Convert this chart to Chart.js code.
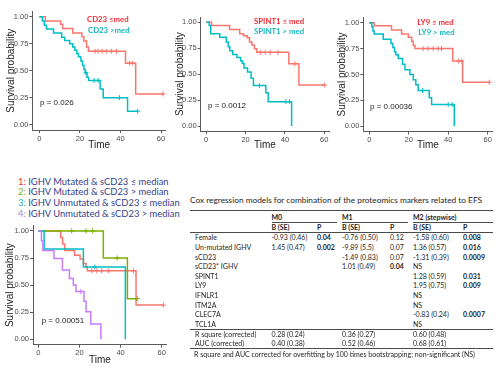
<!DOCTYPE html>
<html>
<head>
<meta charset="utf-8">
<script src="https://cdn.jsdelivr.net/npm/chart.js@4.4.1/dist/chart.umd.min.js"></script>
<style>
  html, body { margin: 0; padding: 0; background: #fff; }
  #page { position: relative; width: 500px; height: 375px; overflow: hidden; font-family: Lato, "Liberation Sans", sans-serif; }
  canvas { position: absolute; }
  .t { position: absolute; white-space: nowrap; line-height: 1; transform: translateY(-50%); }
  .rule { position: absolute; height: 0; border-top: 1px solid #4a4a4a; }
</style>
</head>
<body>
<div id="page">
  <canvas id="km1"></canvas>
  <canvas id="km2"></canvas>
  <canvas id="km3"></canvas>
  <canvas id="km4"></canvas>
</div>
<script>
// ---- survival curves (time in months, survival probability) ----
// panel 1: CD23
const cd23LowTime = [0, 3, 10.5, 11.5, 16.5, 21, 22, 23.3, 24.2, 42.5, 47.5, 61];
const cd23LowSurv = [1, 0.96, 0.93, 0.89, 0.85, 0.815, 0.775, 0.72, 0.68, 0.57, 0.285, 0.285];
const cd23LowCensTime = [27.5, 29, 31, 33, 35.5, 38, 44.5, 46, 61];
const cd23LowCensSurv = [0.68, 0.68, 0.68, 0.68, 0.68, 0.68, 0.57, 0.57, 0.285];
const cd23HighTime = [0, 1.5, 2.5, 3.5, 7, 11, 12.5, 15, 16.5, 17.5, 18.5, 19.3, 20.5, 21.3, 22, 22.6, 23.5, 24.3, 30, 31.5, 43.5, 48.5];
const cd23HighSurv = [1, 0.96, 0.92, 0.885, 0.85, 0.81, 0.78, 0.75, 0.72, 0.69, 0.66, 0.63, 0.59, 0.55, 0.51, 0.48, 0.44, 0.41, 0.33, 0.25, 0.125, 0.125];
const cd23HighCensTime = [23, 27, 29, 39.5, 48.5];
const cd23HighCensSurv = [0.48, 0.41, 0.41, 0.25, 0.125];

// panel 2: SPINT1
const spint1LowTime = [0, 2.7, 11.9, 17, 19, 20.8, 22, 23.2, 24.5, 25.7, 42, 47.1, 60.2];
const spint1LowSurv = [1, 0.97, 0.93, 0.89, 0.87, 0.85, 0.81, 0.78, 0.745, 0.71, 0.6, 0.395, 0.395];
const spint1LowCensTime = [27.5, 30, 32.5, 36.5, 45, 60.2];
const spint1LowCensSurv = [0.71, 0.71, 0.71, 0.71, 0.6, 0.395];
const spint1HighTime = [0, 1.5, 2.3, 6.9, 10.2, 11.2, 12, 13.5, 15.6, 17.5, 18.3, 19.2, 21, 22.8, 24, 30.3, 31.5, 43.4];
const spint1HighSurv = [1, 0.97, 0.89, 0.855, 0.81, 0.765, 0.725, 0.69, 0.66, 0.63, 0.605, 0.56, 0.52, 0.46, 0.39, 0.32, 0.235, 0];
const spint1HighCensTime = [27, 40.5, 42.3];
const spint1HighCensSurv = [0.39, 0.235, 0.235];

// panel 3: LY9
const ly9LowTime = [0, 2.5, 11.3, 16.4, 19.8, 21.5, 22.3, 23.2, 42.3, 47.3, 60.8];
const ly9LowSurv = [1, 0.97, 0.93, 0.89, 0.86, 0.82, 0.78, 0.75, 0.63, 0.425, 0.425];
const ly9LowCensTime = [27.3, 29.8, 32.4, 34.9, 36.6, 45.2, 46.9, 60.8];
const ly9LowCensSurv = [0.75, 0.75, 0.75, 0.75, 0.75, 0.63, 0.63, 0.425];
const ly9HighTime = [0, 1.3, 1.9, 2.5, 7.1, 11, 12, 12.8, 13.5, 14.7, 16.9, 18.1, 20.6, 22.3, 23.6, 24.8, 30.4, 31.6, 43.1];
const ly9HighSurv = [1, 0.96, 0.92, 0.89, 0.84, 0.8, 0.76, 0.72, 0.69, 0.655, 0.6, 0.545, 0.5, 0.45, 0.4, 0.345, 0.275, 0.21, 0];
const ly9HighCensTime = [27, 40, 42];
const ly9HighCensSurv = [0.345, 0.21, 0.21];

// panel 4: IGHV x sCD23 groups
const grp1Time = [0, 10.9, 11.8, 12.8, 17.6, 20.3, 21.9, 23.2, 23.8, 47.5, 60.8];
const grp1Surv = [1, 0.94, 0.88, 0.82, 0.776, 0.74, 0.7, 0.67, 0.632, 0.316, 0.316];
const grp1CensTime = [26, 28.4, 30.8, 34, 46.2, 60.8];
const grp1CensSurv = [0.632, 0.632, 0.632, 0.632, 0.632, 0.316];
const grp2Time = [0, 31.6, 43.3, 48.1];
const grp2Surv = [1, 0.75, 0.375, 0.375];
const grp2CensTime = [16.2, 23.2, 26.4, 38.3, 48.1];
const grp2CensSurv = [1, 1, 1, 0.75, 0.375];
const grp3Time = [0, 2.8, 21.9, 42.3];
const grp3Surv = [1, 0.833, 0.667, 0];
const grp3CensTime = [27.5];
const grp3CensSurv = [0.667];
const grp4Time = [0, 1.5, 2.2, 7.6, 11.7, 15.1, 17, 18.3, 22.2, 23.2, 25.5, 30.4];
const grp4Surv = [1, 0.91, 0.82, 0.745, 0.64, 0.56, 0.5, 0.44, 0.35, 0.255, 0.14, 0];
const grp4CensTime = [20.6];
const grp4CensSurv = [0.44];

const pValues = ['p = 0.026', 'p = 0.0012', 'p = 0.00036', 'p = 0.00051'];
const xTicks = [0, 20, 40, 60];
const yTicks = [0, 0.25, 0.5, 0.75, 1];

// ---- Cox table ----
const coxRows = ['Female', 'Un-mutated IGHV', 'sCD23', 'sCD23* IGHV', 'SPINT1', 'LY9', 'IFNLR1', 'ITM2A', 'CLEC7A', 'TCL1A'];
const m0B = ['-0.93 (0.46)', '1.45 (0.47)', '', '', '', '', '', '', '', ''];
const m0P = ['0.04', '0.002', '', '', '', '', '', '', '', ''];
const m1B = ['-0.76 (0.50)', '-9.89 (5.5)', '-1.49 (0.83)', '1.01 (0.49)', '', '', '', '', '', ''];
const m1P = ['0.12', '0.07', '0.07', '0.04', '', '', '', '', '', ''];
const m2B = ['-1.58 (0.60)', '1.36 (0.57)', '-1.31 (0.39)', 'NS', '1.28 (0.59)', '1.95 (0.75)', 'NS', 'NS', '-0.83 (0.24)', 'NS'];
const m2P = ['0.008', '0.016', '0.0009', '', '0.031', '0.009', '', '', '0.0007', ''];
const fitRows = ['R square (corrected)', 'AUC (corrected)'];
const fitM0 = ['0.28 (0.24)', '0.40 (0.38)'];
const fitM1 = ['0.36 (0.27)', '0.52 (0.46)'];
const fitM2 = ['0.60 (0.48)', '0.68 (0.61)'];

const RED = '#F8766D', GREEN = '#7CAE00', CYAN = '#00BFC4', PURPLE = '#C77CFF';
const axisColor = '#5a5a5a';
const plotFont = '"Liberation Sans", Arial, sans-serif';
const page = document.getElementById('page');

function pts(ts, ss) {
  return ts.map((t, i) => ({ x: t, y: ss[i] }));
}

function curve(color, ts, ss, cts, css, order) {
  return [
    { data: pts(ts, ss), showLine: true, stepped: true, borderColor: color, borderWidth: 1.5, pointRadius: 0, order: order },
    { data: pts(cts, css), showLine: false, pointStyle: 'cross', pointRadius: 2.5, borderColor: color, borderWidth: 1, order: order }
  ];
}

// box: canvas rect (cl, ct, cw, ch) and plot area edges (L, T, R, B) in page pixels
function kmChart(id, box, datasets) {
  const cv = document.getElementById(id);
  cv.width = box.cw;
  cv.height = box.ch;
  cv.style.left = box.cl + 'px';
  cv.style.top = box.ct + 'px';
  cv.style.width = box.cw + 'px';
  cv.style.height = box.ch + 'px';

  new Chart(cv, {
    type: 'scatter',
    data: { datasets: datasets },
    options: {
      responsive: false,
      animation: false,
      devicePixelRatio: 1,
      layout: { padding: { left: 0, top: box.T - box.ct, right: box.cl + box.cw - box.R, bottom: 0 } },
      plugins: { legend: { display: false }, tooltip: { enabled: false } },
      scales: {
        x: {
          type: 'linear', min: box.xMin, max: 62.4,
          afterFit: function(s) { s.height = box.ct + box.ch - box.B; },
          afterBuildTicks: function(s) { s.ticks = xTicks.map(v => ({ value: v })); },
          grid: { display: true, drawOnChartArea: false, tickLength: 3, color: axisColor, lineWidth: 1 },
          border: { display: true, color: axisColor, width: 1 },
          ticks: { font: { family: plotFont, size: 7.5 }, color: '#4d4d4d', padding: 1, maxRotation: 0, autoSkip: false },
          title: { display: true, text: 'Time', font: { family: plotFont, size: 10 }, color: '#222', padding: { top: 0, bottom: box.xPad } }
        },
        y: {
          type: 'linear', min: -0.05, max: 1.05,
          afterFit: function(s) { s.width = box.L - box.cl; },
          afterBuildTicks: function(s) { s.ticks = yTicks.map(v => ({ value: v })); },
          grid: { display: true, drawOnChartArea: false, tickLength: 3, color: axisColor, lineWidth: 1 },
          border: { display: true, color: axisColor, width: 1 },
          ticks: { font: { family: plotFont, size: 7.5 }, color: '#4d4d4d', padding: 1, callback: v => v.toFixed(2) },
          title: { display: true, text: 'Survival probability', font: { family: plotFont, size: 10 }, color: '#222', padding: { top: box.yPad, bottom: 0 } }
        }
      }
    }
  });
}

function text(str, x, y, size, color, weight, family) {
  const d = document.createElement('div');
  d.className = 't';
  d.textContent = str;
  d.style.left = x + 'px';
  d.style.top = y + 'px';
  d.style.fontSize = size + 'px';
  d.style.color = color;
  if (weight) d.style.fontWeight = weight;
  if (family) d.style.fontFamily = family;
  page.appendChild(d);
  return d;
}

function rule(x1, x2, y) {
  const d = document.createElement('div');
  d.className = 'rule';
  d.style.left = x1 + 'px';
  d.style.width = (x2 - x1) + 'px';
  d.style.top = y + 'px';
  page.appendChild(d);
}

// ---- the four Kaplan-Meier panels ----
kmChart('km1', { cl: 0, ct: 0, cw: 172, ch: 158, L: 32.4, T: 11.3, R: 165.9, B: 130.1, xMin: -3.4, xPad: 6.3, yPad: 5.7 },
  curve(RED, cd23LowTime, cd23LowSurv, cd23LowCensTime, cd23LowCensSurv, 2)
    .concat(curve(CYAN, cd23HighTime, cd23HighSurv, cd23HighCensTime, cd23HighCensSurv, 1)));

kmChart('km2', { cl: 168, ct: 0, cw: 166, ch: 158, L: 200.7, T: 17.1, R: 330.5, B: 131.2, xMin: -2.8, xPad: 6.3, yPad: 6.7 },
  curve(RED, spint1LowTime, spint1LowSurv, spint1LowCensTime, spint1LowCensSurv, 2)
    .concat(curve(CYAN, spint1HighTime, spint1HighSurv, spint1HighCensTime, spint1HighCensSurv, 1)));

kmChart('km3', { cl: 334, ct: 0, cw: 166, ch: 158, L: 363.3, T: 17.5, R: 492.4, B: 131.5, xMin: -3.0, xPad: 6.3, yPad: 2.7 },
  curve(RED, ly9LowTime, ly9LowSurv, ly9LowCensTime, ly9LowCensSurv, 2)
    .concat(curve(CYAN, ly9HighTime, ly9HighSurv, ly9HighCensTime, ly9HighCensSurv, 1)));

kmChart('km4', { cl: 0, ct: 220, cw: 172, ch: 155, L: 33, T: 225.3, R: 166.7, B: 344.7, xMin: -2.6, xPad: 9, yPad: 4 },
  curve(RED, grp1Time, grp1Surv, grp1CensTime, grp1CensSurv, 4)
    .concat(curve(GREEN, grp2Time, grp2Surv, grp2CensTime, grp2CensSurv, 3))
    .concat(curve(CYAN, grp3Time, grp3Surv, grp3CensTime, grp3CensSurv, 2))
    .concat(curve(PURPLE, grp4Time, grp4Surv, grp4CensTime, grp4CensSurv, 1)));

// in-panel labels
const LRED = '#ee2c34', LCYAN = '#17b6c2';
const labelSize = 7.8;
text('CD23 \u2264med', 87, 20, labelSize, LRED, 'bold');
text('CD23 >med', 88, 31, labelSize, LCYAN, 'bold');
text('SPINT1 \u2264 med', 254, 22.3, labelSize, LRED, 'bold');
text('SPINT1 > med', 254, 32.3, labelSize, LCYAN, 'bold');
text('LY9 \u2264 med', 417.3, 23.3, labelSize, LRED, 'bold');
text('LY9 > med', 418.3, 33.3, labelSize, LCYAN, 'bold');

text(pValues[0], 40, 103.3, 8, '#222', null, plotFont);
text(pValues[1], 208, 106, 8, '#222', null, plotFont);
text(pValues[2], 370, 106.7, 8, '#222', null, plotFont);
text(pValues[3], 41.7, 321, 8, '#222', null, plotFont);

// group legend for panel 4
const groupNames = ['IGHV Mutated & sCD23 \u2264 median', 'IGHV Mutated & sCD23 > median',
  'IGHV Unmutated & sCD23 \u2264 median', 'IGHV Unmutated & sCD23 > median'];
const groupColors = ['#f0303a', '#72b01e', '#14b4d0', '#b57be6'];
const legendY = [181.5, 192, 203, 214];
groupNames.forEach((name, i) => {
  const d = text('', 18, legendY[i], 9.4, '#34418c');
  const num = document.createElement('span');
  num.style.color = groupColors[i];
  num.textContent = (i + 1) + ': ';
  d.appendChild(num);
  d.appendChild(document.createTextNode(name));
});

// ---- Cox regression table ----
const TC = '#1e1e1e';
const colX = [271.5, 317, 342, 390, 413, 463];
const labelX = 195;
const fs = 7;
const tableRight = 493;
text('Cox regression models for combination of the proteomics markers related to EFS', 190, 200, 8.3, TC);
rule(190, tableRight, 209.5);
text('M0', colX[0], 216.7, fs, TC, 'bold');
text('M1', colX[2], 216.7, fs, TC, 'bold');
text('M2 (stepwise)', colX[4], 216.7, fs, TC, 'bold');
rule(colX[0], 337, 221.5);
rule(colX[2], 408, 221.5);
rule(colX[4], tableRight, 221.5);
[0, 2, 4].forEach(c => {
  text('B (SE)', colX[c], 227.3, fs, TC, 'bold');
  text('P', colX[c + 1], 227.3, fs, TC, 'bold');
});
rule(190, tableRight, 232);

const cols = [m0B, m0P, m1B, m1P, m2B, m2P];
coxRows.forEach((name, r) => {
  const y = 237.3 + r * 9.6;
  text(name, labelX, y, fs, TC);
  cols.forEach((col, c) => {
    const v = col[r];
    if (!v) return;
    const isP = c % 2 === 1;
    text(v, colX[c], y, fs, TC, isP && parseFloat(v) < 0.05 ? 'bold' : null);
  });
});
rule(190, tableRight, 329.3);
fitRows.forEach((name, r) => {
  const y = 334 + r * 9.2;
  text(name, labelX, y, fs, TC);
  text(fitM0[r], colX[0], y, fs, TC);
  text(fitM1[r], colX[2], y, fs, TC);
  text(fitM2[r], colX[4], y, fs, TC);
});
rule(190, tableRight, 348);
text('R square and AUC corrected for overfitting by 100 times bootstrapping; non-significant (NS)', 194, 354, fs, TC);
</script>
</body>
</html>
